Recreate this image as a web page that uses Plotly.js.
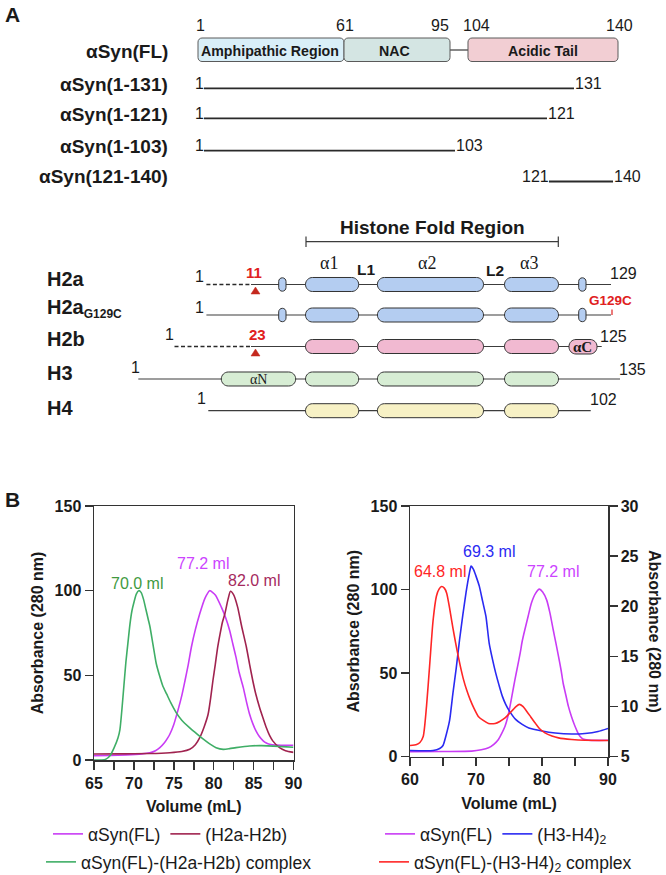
<!DOCTYPE html>
<html>
<head>
<meta charset="utf-8">
<script src="https://cdn.plot.ly/plotly-3.0.1.min.js"></script>
<style>html,body{margin:0;padding:0;background:#fff;}#chart{width:666px;height:875px;}</style>
</head>
<body>
<div id="chart"></div>
<script>
// ================= DATA =================
// Panel A - alpha-synuclein constructs
const synLabels = ['αSyn(FL)', 'αSyn(1-131)', 'αSyn(1-121)', 'αSyn(1-103)', 'αSyn(121-140)'];
const synStart = [1, 1, 1, 1, 121];
const synEnd = [140, 131, 121, 103, 140];
const synDomainNames = ['Amphipathic Region', 'NAC', 'Acidic Tail'];
const synDomainTicks = [1, 61, 95, 104, 140];

// Panel A - histones
const histoneLabels = ['H2a', 'H2a<sub><span style="font-size:12px">G129C</span></sub>', 'H2b', 'H3', 'H4'];
const histoneStart = [1, 1, 1, 1, 1];
const histoneEnd = [129, 129, 125, 135, 102];
const histoneCut = [11, null, 23, null, null];
const histoneMutation = [null, 'G129C', null, null, null];
const foldTitle = 'Histone Fold Region';
const foldLabels = ['α1', 'L1', 'α2', 'L2', 'α3'];

// Panel B left: elution volume (mL) vs absorbance at 280 nm
const synFL_A_x = [65, 67, 69, 71, 72, 72.7, 73.25, 73.8, 74.2, 74.5, 75, 75.5, 76, 76.4, 76.8, 77.2, 77.7, 78.25, 78.9, 79.5, 80.2, 80.96, 81.5, 82, 82.4, 82.8, 83.2, 83.7, 84.1, 84.5, 84.9, 85.3, 85.7, 86.2, 86.6, 87, 87.8, 89, 90];
const synFL_A_y = [2.5, 2.7, 3, 3.6, 4.3, 5.5, 7.3, 10, 12.8, 15.2, 21, 29, 38, 46.8, 56, 66.6, 77, 86.4, 95.5, 100, 97.5, 90.3, 84, 76.5, 68.5, 60.6, 51.5, 42.9, 34.5, 27, 21.5, 17.2, 14, 11.3, 10, 9.3, 8.8, 8.7, 8.7];
const h2ah2b_x = [65, 68, 72, 74.5, 76, 77, 77.7, 78.25, 78.8, 79.3, 79.6, 79.9, 80.2, 80.5, 80.8, 81.1, 81.4, 81.8, 82.1, 82.5, 83, 83.5, 84.1, 84.5, 84.9, 85.3, 85.75, 86.2, 86.6, 87, 87.4, 88.25, 89, 90];
const h2ah2b_y = [3.5, 3.6, 3.8, 4.3, 5, 6.3, 9, 13.2, 19.5, 27, 36, 46.8, 56.5, 66.6, 74.5, 81.5, 86.4, 95, 99.6, 97.5, 90.3, 79, 66.6, 56.5, 46.8, 38.5, 31, 24.5, 19, 14.5, 11.3, 7.3, 5.5, 4.5];
const cplxH2_x = [65, 66, 66.5, 67, 67.5, 68, 68.25, 68.5, 68.75, 69, 69.25, 69.5, 69.75, 70, 70.3, 70.6, 70.9, 71.2, 71.5, 71.8, 72, 72.4, 72.8, 73.2, 73.6, 74.1, 74.6, 75.3, 76, 77, 78, 78.7, 79.5, 80.3, 81.2, 82, 82.8, 84.5, 86, 88.6, 90];
const cplxH2_y = [0, 0, 0.5, 2.5, 7, 13, 18, 30, 44, 58, 69, 80, 88, 93, 98, 100, 99, 95, 89, 83, 79, 68, 57, 50, 44, 39, 34, 28, 23.5, 19, 15, 12.3, 9.5, 7.3, 6.3, 6.7, 7.3, 8.3, 8.5, 7.9, 7.5];
const peakLabelsA = ['70.0 ml', '77.2 ml', '82.0 ml'];
const peakLabelsA_x = [70.4, 78.6, 85.1];
const peakLabelsA_y = [104, 116, 106];

// Panel B right
const synFL_B_x = [60, 65, 69.35, 70.8, 71.9, 72.7, 73.4, 73.9, 74.4, 74.8, 75.15, 75.5, 75.9, 76.3, 76.7, 77, 77.4, 77.9, 78.4, 79, 79.6, 80.1, 80.7, 81.2, 81.7, 82.1, 82.5, 82.9, 83.2, 83.6, 84, 84.5, 85, 85.4, 85.75, 86.2, 87, 90];
const synFL_B_y = [2.8, 3, 3.2, 4, 5.2, 7.3, 10.2, 13.8, 18.1, 23.5, 30, 37.5, 46, 54, 62, 69, 75.9, 84, 91.9, 97.5, 100.2, 98.5, 93.8, 86, 75.9, 68, 60, 51.5, 44, 37, 30, 23.5, 18.1, 14.5, 12.1, 10.5, 9.8, 9.7];
const h3h4_x = [60, 63.5, 64.5, 65, 65.5, 66, 66.5, 67, 67.5, 68, 68.5, 69, 69.25, 69.6, 70, 70.5, 71, 71.5, 72, 72.5, 73, 73.5, 74, 74.5, 75, 76, 77, 78, 80, 82, 84.5, 86.5, 88.5, 90];
const h3h4_y = [5.6, 5.6, 5.8, 6.1, 7.2, 8.6, 11.3, 13.8, 16.6, 19.1, 21.4, 23.3, 24, 23.7, 23, 22, 20.5, 19, 16.3, 14.7, 13.3, 12.1, 11, 10.2, 9.6, 8.7, 8.2, 7.85, 7.55, 7.35, 7.25, 7.3, 7.5, 7.8];
const cplxH3_x = [60, 61, 61.5, 62, 62.5, 63, 63.5, 64, 64.4, 64.8, 65.2, 65.56, 66, 66.3, 66.7, 67.1, 67.6, 68.1, 68.6, 69.1, 69.7, 70.35, 71.1, 71.9, 72.9, 73.6, 74.4, 75, 75.65, 76.1, 76.56, 77.1, 77.7, 78.3, 78.9, 79.6, 80.45, 81.5, 82.5, 84.5, 86.5, 90];
const cplxH3_y = [6.1, 6.2, 6.4, 7, 10, 14.3, 18.6, 21, 21.7, 21.96, 21.8, 21.3, 19.8, 18.6, 17.1, 15.7, 14.1, 12.7, 11.6, 10.7, 9.8, 9, 8.6, 8.3, 8.3, 8.5, 8.85, 9.25, 9.7, 10, 10.2, 10, 9.5, 8.95, 8.4, 7.8, 7.36, 7.05, 6.86, 6.7, 6.62, 6.6];
const peakLabelsB = ['64.8 ml', '69.3 ml', '77.2 ml'];
const peakLabelsB_x = [64.6, 71.9, 81.6];
const peakLabelsB_y = [110.7, 122.6, 110.7];

// ================= STYLE / GEOMETRY =================
const W = 666, H = 875;
const F = 'Arial, "Liberation Sans", sans-serif';
const FS = '"Times New Roman", "Liberation Serif", serif';
const INK = '#1a1a1a';
const LN = '#3c3c3c';
const PURPLE = '#c93cf5', MAROON = '#a0234f', GREEN = '#3fae66', BLUE = '#2a2af2', RED = '#ff2626';
const px = x => x / W, py = y => 1 - y / H;
const shapes = [], ann = [];

function seg(x0, y0, x1, y1, color, width, dash) {
  shapes.push({type: 'line', xref: 'paper', yref: 'paper', x0: px(x0), y0: py(y0), x1: px(x1), y1: py(y1),
    line: {color: color, width: width, dash: dash || 'solid'}});
}
function P(x, y) { return px(x).toFixed(5) + ',' + py(y).toFixed(5); }
function rbox(x0, y0, x1, y1, r, fill, lc, lw) {
  const k = 0.5523 * r;
  const d = 'M' + P(x0 + r, y0) + ' L' + P(x1 - r, y0) +
    ' C' + P(x1 - r + k, y0) + ' ' + P(x1, y0 + r - k) + ' ' + P(x1, y0 + r) +
    ' L' + P(x1, y1 - r) +
    ' C' + P(x1, y1 - r + k) + ' ' + P(x1 - r + k, y1) + ' ' + P(x1 - r, y1) +
    ' L' + P(x0 + r, y1) +
    ' C' + P(x0 + r - k, y1) + ' ' + P(x0, y1 - r + k) + ' ' + P(x0, y1 - r) +
    ' L' + P(x0, y0 + r) +
    ' C' + P(x0, y0 + r - k) + ' ' + P(x0 + r - k, y0) + ' ' + P(x0 + r, y0) + ' Z';
  shapes.push({type: 'path', xref: 'paper', yref: 'paper', path: d, fillcolor: fill,
    line: {color: lc || '#333', width: lw || 1}});
}
function tri(cx, yTip, yBase, hw, fill) {
  const d = 'M' + P(cx, yTip) + ' L' + P(cx + hw, yBase) + ' L' + P(cx - hw, yBase) + ' Z';
  shapes.push({type: 'path', xref: 'paper', yref: 'paper', path: d, fillcolor: fill, line: {color: fill, width: 0.5}});
}
function txt(t, x, y, size, o) {
  o = o || {};
  ann.push({text: t, x: px(x), y: py(y), xref: 'paper', yref: 'paper', showarrow: false,
    xanchor: o.xa || 'center', yanchor: 'middle', textangle: o.angle || 0, borderpad: 0, borderwidth: 0,
    font: {family: o.family || F, size: size, color: o.color || INK}});
}

// ---------- Panel A: alpha-synuclein ----------
txt('<b>A</b>', 12, 15, 21);
const topTickX = [200, 344.7, 439.5, 476.6, 619];
synDomainTicks.forEach((r, i) => txt(String(r), topTickX[i], 25, 16));
const synRowY = [50, 88.3, 118.3, 150.7, 181.5];
const synLabelY = [52, 84.5, 114.5, 146.5, 176.5];
synLabels.forEach((t, i) => txt('<b>' + t + '</b>', 168, synLabelY[i], 19, {xa: 'right'}));
const domX = [[198, 344], [344, 450], [468, 618]];
const domFill = ['#d9eff8', '#d4e5e3', '#f2ced3'];
const domTextX = [270, 394, 543];
seg(450, 50, 468, 50, '#555', 1.4);
domX.forEach((d, i) => {
  rbox(d[0], 38, d[1], 61.5, 4, domFill[i], '#5a5a5a', 1);
  txt('<b>' + synDomainNames[i] + '</b>', domTextX[i], 50.5, 14.2);
});
const synLineStartX = {1: 204, 121: 549};
const synLineEndX = {103: 455, 121: 547, 131: 574, 140: 613};
for (let i = 1; i < synLabels.length; i++) {
  const y = synRowY[i];
  const x0 = synLineStartX[synStart[i]], x1 = synLineEndX[synEnd[i]];
  seg(x0, y, x1, y, '#2a2a2a', 1.8);
  txt(String(synStart[i]), x0 - 0.5, y - 5, 16, {xa: 'right'});
  txt(String(synEnd[i]), x1 + 0.5, y - 5, 16, {xa: 'left'});
}

// ---------- Panel A: histones ----------
txt('<b>' + foldTitle + '</b>', 432, 227.5, 19);
seg(306, 241.7, 558.3, 241.7, LN, 1.2);
seg(306, 236.5, 306, 247, LN, 1.2);
seg(558.3, 236.5, 558.3, 247, LN, 1.2);
const foldLabelX = [328.5, 366.4, 426.6, 494.7, 528.7];
const foldLabelY = [262.5, 270, 263, 270.5, 262.5];
foldLabels.forEach((t, i) => {
  if (t[0] === 'α') txt(t, foldLabelX[i], foldLabelY[i], 18, {family: FS});
  else txt('<b>' + t + '</b>', foldLabelX[i], foldLabelY[i], 15.5);
});
const hRowY = [284.5, 315, 346.5, 379, 410.7];
const hLabelY = [279.5, 308, 339, 372.5, 407.5];
const hFill = ['#b4cdf1', '#b4cdf1', '#f1b9d1', '#d7edd4', '#f7f1c5'];
const hLineStart = [206.4, 206.4, 174.5, 138.3, 208.3];
const hDashEnd = [251, null, 251, null, null];
const hLineEnd = [611, 611, 601.7, 620, 590.7];
const hStartLbl = [[199, 277], [199, 307], [169.4, 335], [135.3, 367], [201, 398]];
const hEndLbl = [[623.5, 273], null, [613, 336.7], [632, 369.5], [603.3, 400]];
const helixX = [[305.5, 358.7], [377.4, 483.5], [504.5, 558.5]];
histoneLabels.forEach((lab, i) => {
  const y = hRowY[i];
  txt('<b>' + lab + '</b>', 47, hLabelY[i], 20, {xa: 'left'});
  if (hDashEnd[i]) {
    seg(hLineStart[i], y, hDashEnd[i], y, '#2a2a2a', 1.4, '4px,2.5px');
    seg(hDashEnd[i], y, hLineEnd[i], y, LN, 1.2);
  } else {
    seg(hLineStart[i], y, hLineEnd[i], y, LN, 1.2);
  }
  helixX.forEach(h => rbox(h[0], y - 7, h[1], y + 7, 7, hFill[i], '#333', 1));
  if (i <= 1) {
    rbox(278.7, y - 6.7, 286, y + 6.7, 3.6, hFill[i], '#333', 1);
    rbox(578.7, y - 6.7, 586, y + 6.7, 3.6, hFill[i], '#333', 1);
  }
  if (i === 2) {
    rbox(569, y - 7, 597, y + 7.5, 7, hFill[i], '#333', 1);
    txt('<b>αC</b>', 582.5, y + 0.5, 15, {family: FS});
  }
  if (i === 3) {
    rbox(221.3, y - 7, 295.7, y + 7, 7, hFill[i], '#333', 1);
    txt('αN', 258.5, y, 14, {family: FS});
  }
  txt(String(histoneStart[i]), hStartLbl[i][0], hStartLbl[i][1], 16);
  if (hEndLbl[i]) txt(String(histoneEnd[i]), hEndLbl[i][0], hEndLbl[i][1], 16);
  if (histoneCut[i]) {
    txt('<b>' + histoneCut[i] + '</b>', i === 0 ? 253.5 : 257, i === 0 ? 272 : 334.5, 15, {color: '#e02020'});
    tri(255.5, y + 2.5, y + 9.5, 4.5, '#c4281e');
  }
  if (histoneMutation[i]) {
    txt('<b>' + histoneMutation[i] + '</b>', 610.7, 300.5, 13.5, {color: '#e02020'});
    seg(612, 309.5, 612, 315, '#e02020', 1.2);
  }
});

// ---------- Panel B ----------
txt('<b>B</b>', 12, 499, 21);
peakLabelsA.forEach((t, i) => ann.push({text: t, x: peakLabelsA_x[i], y: peakLabelsA_y[i], xref: 'x', yref: 'y',
  showarrow: false, xanchor: 'center', yanchor: 'middle', borderpad: 0,
  font: {family: F, size: 16, color: ['#3f9a3f', '#cc44ff', '#a52a5e'][i]}}));
peakLabelsB.forEach((t, i) => ann.push({text: t, x: peakLabelsB_x[i], y: peakLabelsB_y[i], xref: 'x2', yref: 'y2',
  showarrow: false, xanchor: 'center', yanchor: 'middle', borderpad: 0,
  font: {family: F, size: 16, color: [RED, BLUE, '#cc44ff'][i]}}));
txt('<b>Absorbance (280 nm)</b>', 655, 631, 16, {angle: 90});

const lineOpts = (c) => ({color: c, width: 1.6, shape: 'spline', smoothing: 0.6});
const traces = [
  {x: synFL_A_x, y: synFL_A_y, xaxis: 'x', yaxis: 'y', name: 'αSyn(FL)', legend: 'legend', line: lineOpts(PURPLE)},
  {x: h2ah2b_x, y: h2ah2b_y, xaxis: 'x', yaxis: 'y', name: '(H2a-H2b)', legend: 'legend', line: lineOpts(MAROON)},
  {x: cplxH2_x, y: cplxH2_y, xaxis: 'x', yaxis: 'y', name: 'αSyn(FL)-(H2a-H2b) complex', legend: 'legend2', line: lineOpts(GREEN)},
  {x: synFL_B_x, y: synFL_B_y, xaxis: 'x2', yaxis: 'y2', name: 'αSyn(FL)', legend: 'legend3', line: lineOpts(PURPLE)},
  {x: h3h4_x, y: h3h4_y, xaxis: 'x2', yaxis: 'y3', name: '(H3-H4)<sub>2</sub>', legend: 'legend3', line: lineOpts(BLUE)},
  {x: cplxH3_x, y: cplxH3_y, xaxis: 'x2', yaxis: 'y3', name: 'αSyn(FL)-(H3-H4)<sub>2</sub> complex', legend: 'legend4', line: lineOpts(RED)}
].map(t => Object.assign({type: 'scatter', mode: 'lines', hoverinfo: 'skip', showlegend: true}, t));

const tickFont = {family: F, size: 16, color: INK, weight: 'bold'};
const titleFont = {family: F, size: 16, color: INK, weight: 'bold'};
const ax = {showline: true, linecolor: '#333', linewidth: 1.5, ticks: 'outside', ticklen: 8, tickwidth: 1.5,
  tickcolor: '#333', tickfont: tickFont, showgrid: false, zeroline: false, fixedrange: true};
const minorT = d => ({dtick: d, ticks: 'outside', ticklen: 8, tickwidth: 1.5, tickcolor: '#333', showgrid: false});
const legBase = {orientation: 'h', xanchor: 'left', yanchor: 'middle', bgcolor: 'rgba(0,0,0,0)', borderwidth: 0,
  font: {family: F, size: 17.5, color: INK}};

const layout = {
  width: W, height: H, margin: {l: 0, r: 0, t: 0, b: 0, autoexpand: false},
  paper_bgcolor: '#fff', plot_bgcolor: '#fff', showlegend: true,
  xaxis: Object.assign({}, ax, {domain: [94 / W, 293.5 / W], range: [65, 90], tick0: 65, dtick: 5, mirror: true, anchor: 'y',
    minor: minorT(2.5), title: {text: 'Volume (mL)', font: titleFont, standoff: 10}}),
  yaxis: Object.assign({}, ax, {domain: [1 - 760 / H, 1 - 506 / H], range: [0, 150], dtick: 50, mirror: true, anchor: 'x',
    title: {text: 'Absorbance (280 nm)', font: titleFont, standoff: 7}}),
  xaxis2: Object.assign({}, ax, {domain: [410 / W, 608 / W], range: [60, 90], tick0: 60, dtick: 10, mirror: true, anchor: 'y2',
    minor: minorT(5), title: {text: 'Volume (mL)', font: titleFont, standoff: 10}}),
  yaxis2: Object.assign({}, ax, {domain: [1 - 756.5 / H, 1 - 506 / H], range: [0, 150], dtick: 50, anchor: 'x2',
    title: {text: 'Absorbance (280 nm)', font: titleFont, standoff: 7}}),
  yaxis3: Object.assign({}, ax, {overlaying: 'y2', side: 'right', anchor: 'x2', range: [5, 30], dtick: 5}),
  legend: Object.assign({}, legBase, {x: 48 / W, y: py(834)}),
  legend2: Object.assign({}, legBase, {x: 41 / W, y: py(862)}),
  legend3: Object.assign({}, legBase, {x: 380 / W, y: py(834)}),
  legend4: Object.assign({}, legBase, {x: 374 / W, y: py(862)}),
  shapes: shapes, annotations: ann
};

Plotly.newPlot('chart', traces, layout, {staticPlot: true, displayModeBar: false});
</script>
</body>
</html>
